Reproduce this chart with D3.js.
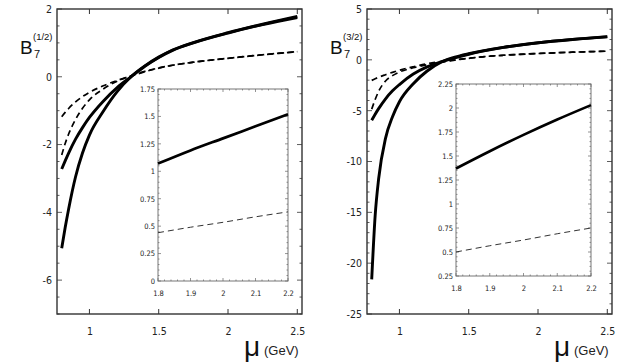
<!DOCTYPE html>
<html>
<head>
<meta charset="utf-8">
<script src="https://cdn.jsdelivr.net/npm/d3@7"></script>
<style>
  body { margin: 0; background: #fff; }
  svg { display: block; }
  .tick text { font-family: "Liberation Sans Narrow", "DejaVu Sans Condensed", sans-serif; fill: #222; }
</style>
</head>
<body>
<div class="chart"></div>
<script>
// sample points along mu (GeV)
var mu = [0.8, 0.825, 0.85, 0.9, 0.95, 1.0, 1.1, 1.2, 1.3, 1.4, 1.5, 1.6, 1.75, 2.0, 2.25, 2.5];

// B7(1/2) curves
var leftSolidA = [-5.06, -4.45, -3.9, -2.95, -2.25, -1.72, -1.02, -0.44, 0.0, 0.32, 0.58, 0.79, 1.01, 1.30, 1.55, 1.78];
var leftSolidB = [-2.72, -2.48, -2.25, -1.84, -1.5, -1.2, -0.72, -0.32, 0.0, 0.31, 0.57, 0.78, 1.0, 1.29, 1.54, 1.75];
var leftDashC  = [-2.31, -1.97, -1.69, -1.26, -0.93, -0.68, -0.36, -0.13, 0.03, 0.16, 0.26, 0.34, 0.43, 0.545, 0.65, 0.74];
var leftDashD  = [-1.18, -1.05, -0.935, -0.74, -0.585, -0.46, -0.265, -0.11, 0.02, 0.15, 0.255, 0.34, 0.43, 0.545, 0.65, 0.74];

// B7(3/2) curves
var rightSolidA = [-21.6, -15.3, -11.7, -7.7, -5.6, -4.12, -2.35, -1.1, -0.24, 0.26, 0.6, 0.88, 1.23, 1.68, 2.01, 2.28];
var rightSolidB = [-5.95, -5.35, -4.8, -3.83, -3.05, -2.43, -1.4, -0.7, -0.2, 0.2, 0.55, 0.85, 1.22, 1.67, 2.0, 2.26];
var rightDashC  = [-4.85, -3.9, -3.1, -2.08, -1.55, -1.2, -0.78, -0.48, -0.24, -0.03, 0.15, 0.3, 0.45, 0.62, 0.75, 0.85];
var rightDashD  = [-2.02, -1.86, -1.71, -1.46, -1.23, -1.02, -0.68, -0.39, -0.17, 0.0, 0.15, 0.3, 0.45, 0.62, 0.75, 0.85];

// insets
var insetMu = [1.8, 1.9, 2.0, 2.1, 2.2];
var leftInsetSolid = [1.07, 1.19, 1.30, 1.41, 1.52];
var leftInsetDash  = [0.44, 0.49, 0.535, 0.585, 0.63];
var rightInsetSolid = [1.37, 1.55, 1.72, 1.88, 2.03];
var rightInsetDash  = [0.5, 0.565, 0.625, 0.69, 0.75];

// ticks
var xTicks = [1, 1.5, 2, 2.5];
var leftYTicks = [-6, -4, -2, 0, 2];
var rightYTicks = [-25, -20, -15, -10, -5, 0, 5];
var insetXTicks = [1.8, 1.9, 2, 2.1, 2.2];
var leftInsetYTicks = [0, 0.25, 0.5, 0.75, 1, 1.25, 1.5, 1.75];
var rightInsetYTicks = [0.25, 0.5, 0.75, 1, 1.25, 1.5, 1.75, 2, 2.25];

var svg = d3.select(".chart").append("svg")
  .attr("width", 621)
  .attr("height", 363);

function fmt(d) { return String(d); }

function drawPanel(p) {
  var g = svg.append("g");

  var x = d3.scaleLinear().domain([0.766, 2.534]).range([p.left, p.left + 245]);
  var y = d3.scaleLinear().domain(p.yDomain).range([314, 9]);

  // frame
  g.append("rect")
    .attr("x", p.left).attr("y", 9)
    .attr("width", 245).attr("height", 305)
    .attr("fill", "none").attr("stroke", "#333").attr("stroke-width", 1.4);

  // left axis labels + ticks on both sides
  var yAx = g.append("g").attr("transform", "translate(" + p.left + ",0)")
    .call(d3.axisLeft(y).tickValues(p.yTicks).tickSize(0).tickPadding(5).tickFormat(fmt));
  yAx.select(".domain").remove();
  yAx.selectAll("text").style("font-size", "10.5px");

  var minor = d3.range(p.yDomain[0], p.yDomain[1] + 0.001, p.yMinor);
  [p.left, p.left + 245].forEach(function(x0, i) {
    var dir = i === 0 ? 1 : -1;
    g.selectAll(null).data(minor).enter().append("line")
      .attr("x1", x0).attr("x2", function(d) {
        var major = p.yTicks.indexOf(Math.round(d * 100) / 100) >= 0;
        return x0 + dir * (major ? 5 : 2.5);
      })
      .attr("y1", d => y(d)).attr("y2", d => y(d))
      .attr("stroke", "#333").attr("stroke-width", 0.8);
  });

  // bottom axis
  var xAx = g.append("g").attr("transform", "translate(0,314)")
    .call(d3.axisBottom(x).tickValues(xTicks).tickSize(0).tickPadding(14).tickFormat(fmt));
  xAx.select(".domain").remove();
  xAx.selectAll("text").style("font-size", "10.5px");
  [9, 314].forEach(function(y0, i) {
    var dir = i === 0 ? 1 : -1;
    g.selectAll(null).data(xTicks).enter().append("line")
      .attr("x1", d => x(d)).attr("x2", d => x(d))
      .attr("y1", y0).attr("y2", y0 + dir * 5)
      .attr("stroke", "#333").attr("stroke-width", 1);
  });

  var line = d3.line()
    .x((d, i) => x(mu[i]))
    .y(d => y(d))
    .curve(d3.curveMonotoneX);

  p.dashed.forEach(function(s) {
    g.append("path").attr("d", line(s))
      .attr("fill", "none").attr("stroke", "#000")
      .attr("stroke-width", 1.7).attr("stroke-dasharray", "6,4");
  });
  p.solid.forEach(function(s) {
    g.append("path").attr("d", line(s))
      .attr("fill", "none").attr("stroke", "#000")
      .attr("stroke-width", 2.9);
  });

  // inset
  var ix = d3.scaleLinear().domain([1.8, 2.2]).range([p.inset.x0, p.inset.x1]);
  var iy = d3.scaleLinear().domain(p.inset.yDomain).range([p.inset.y1, p.inset.y0]);
  var ig = g.append("g");
  ig.append("rect")
    .attr("x", p.inset.x0).attr("y", p.inset.y0)
    .attr("width", p.inset.x1 - p.inset.x0).attr("height", p.inset.y1 - p.inset.y0)
    .attr("fill", "#fff").attr("stroke", "#777").attr("stroke-width", 1);

  var iyAx = ig.append("g").attr("transform", "translate(" + p.inset.x0 + ",0)")
    .call(d3.axisLeft(iy).tickValues(p.inset.yTicks).tickSize(0).tickPadding(3).tickFormat(fmt));
  iyAx.select(".domain").remove();
  iyAx.selectAll("text").style("font-size", "7.5px").attr("fill", "#444");

  var ixAx = ig.append("g").attr("transform", "translate(0," + p.inset.y1 + ")")
    .call(d3.axisBottom(ix).tickValues(insetXTicks).tickSize(0).tickPadding(10).tickFormat(fmt));
  ixAx.select(".domain").remove();
  ixAx.selectAll("text").style("font-size", "7.5px").attr("fill", "#444");

  // inset minor ticks
  var ixMinor = d3.range(1.8, 2.2001, 0.02);
  [p.inset.y1, p.inset.y0].forEach(function(y0, i) {
    var dir = i === 0 ? -1 : 1;
    ig.selectAll(null).data(ixMinor).enter().append("line")
      .attr("x1", d => ix(d)).attr("x2", d => ix(d))
      .attr("y1", y0).attr("y2", (d, j) => y0 + dir * (j % 5 === 0 ? 3 : 1.5))
      .attr("stroke", "#666").attr("stroke-width", 0.7);
  });
  var iyMinor = d3.range(p.inset.yDomain[0], p.inset.yDomain[1] + 0.001, 0.05);
  [p.inset.x0, p.inset.x1].forEach(function(x0, i) {
    var dir = i === 0 ? 1 : -1;
    ig.selectAll(null).data(iyMinor).enter().append("line")
      .attr("y1", d => iy(d)).attr("y2", d => iy(d))
      .attr("x1", x0).attr("x2", (d, j) => x0 + dir * (j % 5 === 0 ? 3 : 1.5))
      .attr("stroke", "#666").attr("stroke-width", 0.7);
  });

  var iline = d3.line()
    .x((d, i) => ix(insetMu[i]))
    .y(d => iy(d))
    .curve(d3.curveMonotoneX);
  ig.append("path").attr("d", iline(p.inset.dash))
    .attr("fill", "none").attr("stroke", "#333")
    .attr("stroke-width", 1).attr("stroke-dasharray", "6,4");
  ig.append("path").attr("d", iline(p.inset.solid))
    .attr("fill", "none").attr("stroke", "#000")
    .attr("stroke-width", 2.7);

  // y label B7^(..)
  var lab = g.append("g").attr("font-family", "Liberation Sans, Arial, sans-serif").attr("fill", "#111");
  lab.append("text").attr("x", p.left - 37).attr("y", 54).attr("font-size", "19px").text("B");
  lab.append("text").attr("x", p.left - 23).attr("y", 58).attr("font-size", "11px").text("7");
  lab.append("text").attr("x", p.left - 24).attr("y", 40).attr("font-size", "9.5px").text(p.sup);

  // x label
  lab.append("text").attr("x", p.left + 187).attr("y", 356).attr("font-size", "28px").text("\u03bc");
  lab.append("text").attr("x", p.left + 207).attr("y", 355).attr("font-size", "13px").attr("fill", "#222").text("(GeV)");
}

drawPanel({
  left: 57,
  yDomain: [-7, 2],
  yTicks: leftYTicks,
  yMinor: 0.5,
  solid: [leftSolidA, leftSolidB],
  dashed: [leftDashC, leftDashD],
  sup: "(1/2)",
  inset: { x0: 158, x1: 288, y0: 89, y1: 281, yDomain: [0, 1.75], yTicks: leftInsetYTicks,
           solid: leftInsetSolid, dash: leftInsetDash }
});

drawPanel({
  left: 367,
  yDomain: [-25, 5],
  yTicks: rightYTicks,
  yMinor: 1,
  solid: [rightSolidA, rightSolidB],
  dashed: [rightDashC, rightDashD],
  sup: "(3/2)",
  inset: { x0: 456, x1: 591, y0: 84, y1: 276, yDomain: [0.25, 2.25], yTicks: rightInsetYTicks,
           solid: rightInsetSolid, dash: rightInsetDash }
});
</script>
</body>
</html>
